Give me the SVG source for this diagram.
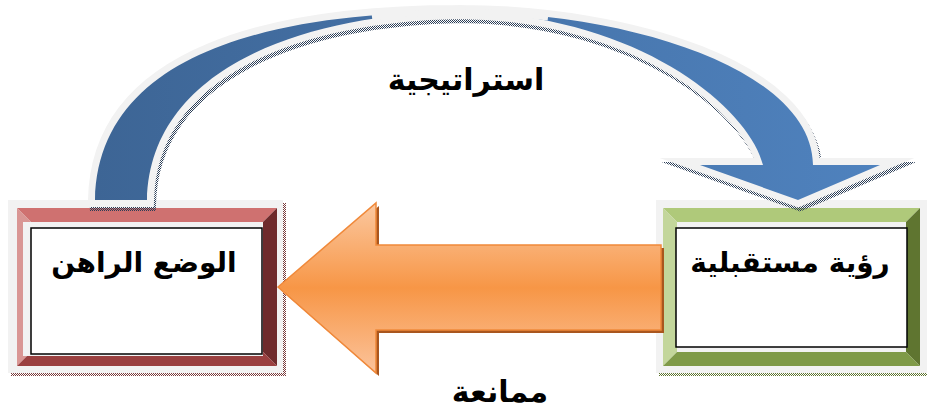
<svg xmlns="http://www.w3.org/2000/svg" width="927" height="409" viewBox="0 0 927 409">
<style>
.frame{fill:#f2f2f2}
.txt{font-family:"DejaVu Sans","Noto Sans",sans-serif;font-weight:bold;fill:#000;text-anchor:middle}
.inner{fill:#fff;stroke:#000;stroke-width:1.5}
</style>
<defs>
<pattern id="dotR" width="2" height="2" patternUnits="userSpaceOnUse"><rect width="1" height="1" fill="#7a3c3c"/><rect x="1" y="1" width="1" height="1" fill="#7a3c3c"/></pattern>
<pattern id="dotG" width="2" height="2" patternUnits="userSpaceOnUse"><rect width="1" height="1" fill="#5f7530"/><rect x="1" y="1" width="1" height="1" fill="#5f7530"/></pattern>
<pattern id="dotB" width="2" height="2" patternUnits="userSpaceOnUse"><rect width="1" height="1" fill="#2c3e57"/><rect x="1" y="1" width="1" height="1" fill="#2c3e57"/></pattern>
<linearGradient id="blueG" x1="95" y1="0" x2="880" y2="0" gradientUnits="userSpaceOnUse"><stop offset="0" stop-color="#3d6595"/><stop offset="1" stop-color="#4f82be"/></linearGradient>
<linearGradient id="orG" x1="0" y1="203" x2="0" y2="373" gradientUnits="userSpaceOnUse"><stop offset="0" stop-color="#fbc8a0"/><stop offset="0.5" stop-color="#f79646"/><stop offset="1" stop-color="#fbc39b"/></linearGradient>
</defs>

<g id="node-current">
<rect x="11" y="203" width="275" height="173" fill="url(#dotR)"/>
<rect class="frame" x="8" y="200" width="275" height="173"/>
<polygon points="17,208 277,208 263,222 31,222" fill="#cf7170"/>
<polygon points="17,208 31,222 31,352 17,366" fill="#d99694"/>
<polygon points="277,208 277,366 263,352 263,222" fill="#6f2b2c"/>
<polygon points="17,366 31,352 263,352 277,366" fill="#9b4040"/>
<rect class="frame" x="23" y="222" width="240" height="134"/>
<rect class="inner" x="31" y="228" width="231" height="126"/>
<text class="txt" x="144" y="272" font-size="28">الوضع الراهن</text>
</g>

<g id="node-vision">
<rect x="659" y="203" width="275" height="173" fill="url(#dotG)"/>
<rect class="frame" x="656" y="200" width="275" height="173"/>
<polygon points="663,208 920,208 906,222 677,222" fill="#afc97a"/>
<polygon points="663,208 677,222 677,352 663,366" fill="#c3d69b"/>
<polygon points="920,208 920,366 906,352 906,222" fill="#5f7530"/>
<polygon points="663,366 677,352 906,352 920,366" fill="#7f9a48"/>
<rect class="frame" x="677" y="222" width="229" height="130"/>
<rect class="inner" x="676" y="228" width="231" height="119"/>
<text class="txt" x="790" y="272" font-size="28">رؤية مستقبلية</text>
</g>

<g id="connectors">
<g id="arc-strategy">
<path transform="translate(2,4)" d="M 95 200 C 98 50 280 12 460 12 C 630 12 812 70 813 165 L 880 165 L 798 200 L 700 165 L 763 165 C 750 110 640 14 460 12 C 300 14 150 70 147 200 Z" fill="url(#dotB)" stroke="url(#dotB)" stroke-width="14" stroke-linejoin="miter" stroke-miterlimit="10"/>
<path d="M 95 200 C 98 50 280 12 460 12 C 630 12 812 70 813 165 L 880 165 L 798 200 L 700 165 L 763 165 C 750 110 640 14 460 12 C 300 14 150 70 147 200 Z" fill="url(#blueG)" stroke="#f2f2f2" stroke-width="14" stroke-linejoin="miter" stroke-miterlimit="10" paint-order="stroke"/>
<path d="M 372 17 Q 460 6.75 548 17.5" fill="none" stroke="#f2f2f2" stroke-width="6"/>
</g>
<g id="arrow-resistance">
<polygon transform="translate(3,3)" points="278,287 376,203 376,245 661,245 661,330 376,330 376,373" fill="#a9561e"/>
<polygon points="278,287 376,203 376,245 661,245 661,330 376,330 376,373" fill="url(#orG)" stroke="#f0893a" stroke-width="1.5"/>
</g>
</g>

<text class="txt" x="466" y="90" font-size="30">استراتيجية</text>
<text class="txt" x="500" y="402" font-size="30">ممانعة</text>
</svg>
